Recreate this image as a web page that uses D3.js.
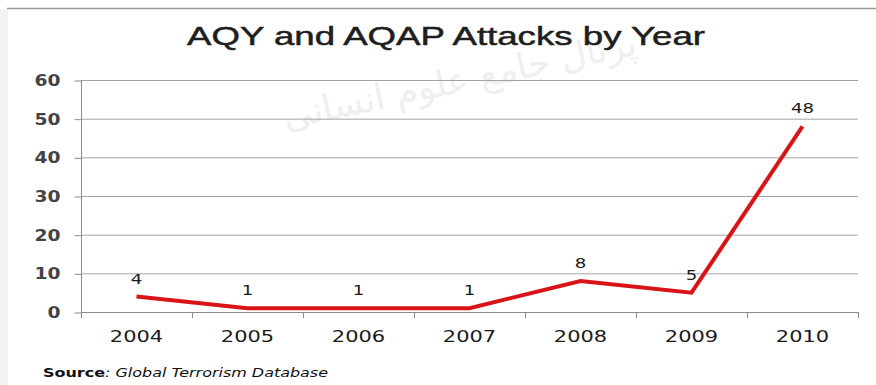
<!DOCTYPE html>
<html><head><meta charset="utf-8">
<script src="https://cdn.jsdelivr.net/npm/d3@7"></script>
<style>
html,body{margin:0;padding:0;background:#fff;}
svg{display:block;}
</style></head>
<body>
<svg id="chart" width="876" height="385"></svg>
<script>
const categories = ["2004","2005","2006","2007","2008","2009","2010"];
const attacks = [4,1,1,1,8,5,48];
const yTicks = [0,10,20,30,40,50,60];
const titleText = "AQY and AQAP Attacks by Year";
const sourceLabel = "Source";
const sourceText = ": Global Terrorism Database";
const watermark = "پرتال جامع علوم انسانی";

const svg = d3.select("#chart");
const W = 876, H = 385;
const m = {left:81, right:18, top:80, bottom:73};

// frame
svg.append("rect").attr("x",0).attr("y",0).attr("width",W).attr("height",H).attr("fill","#fff");
svg.append("rect").attr("x",0).attr("y",9).attr("width",8).attr("height",H-9).attr("fill","#f3f3f3");
svg.append("line").attr("x1",7).attr("x2",W).attr("y1",8.5).attr("y2",8.5).attr("stroke","#9a9a9a").attr("stroke-width",1.5);

// watermark
svg.append("text").attr("transform","translate(462,92) rotate(-12)")
  .attr("text-anchor","middle").attr("font-family","DejaVu Sans").attr("font-size",36)
  .attr("fill","#efefef").text(watermark);

const x = d3.scaleBand().domain(categories).range([m.left, W - m.right]);
const y = d3.scaleLinear().domain([0,60]).range([H - m.bottom, m.top]);

// gridlines
svg.append("g").selectAll("line").data(yTicks.filter(d=>d>0)).join("line")
  .attr("x1",m.left).attr("x2",W-m.right)
  .attr("y1",d=>y(d)+0.5).attr("y2",d=>y(d)+0.5)
  .attr("stroke","#a3a3a3").attr("stroke-width",1);

// y axis
const yAxis = svg.append("g").attr("transform",`translate(${m.left+0.5},0)`)
  .call(d3.axisLeft(y).tickValues(yTicks).tickSize(7).tickPadding(0));
yAxis.select(".domain").attr("stroke","#8a8a8a").attr("d",`M0,${y(60)}V${y(0)+5}`);
yAxis.selectAll(".tick line").attr("stroke","#8a8a8a").attr("transform","translate(0,0.5)");
yAxis.selectAll(".tick text")
  .attr("x",0).attr("dy",null).attr("y",5.5)
  .attr("transform","translate(-21,0) scale(1.25,1)")
  .attr("font-family","DejaVu Sans").attr("font-weight","bold").attr("font-size",15)
  .attr("fill","#444").attr("text-anchor","end");

// x axis
const xAxis = svg.append("g").attr("transform",`translate(0,${y(0)+0.5})`)
  .call(d3.axisBottom(x).tickSize(0).tickPadding(0));
xAxis.select(".domain").attr("stroke","#8a8a8a").attr("d",`M${m.left},0H${W-m.right}`);
xAxis.selectAll(".tick text")
  .attr("y",0).attr("dy",null)
  .attr("transform","translate(0,29) scale(1.27,1)")
  .attr("font-family","DejaVu Sans").attr("font-size",16.5).attr("fill","#1a1a1a");
const bounds = categories.map(c=>x(c)).concat([W-m.right]);
svg.append("g").selectAll("line").data(bounds).join("line")
  .attr("x1",d=>Math.round(d)+0.5).attr("x2",d=>Math.round(d)+0.5)
  .attr("y1",y(0)).attr("y2",y(0)+6).attr("stroke","#8a8a8a");

// line
const cx = d => x(d) + x.bandwidth()/2;
const line = d3.line().x((d,i)=>cx(categories[i])).y(d=>y(d));
svg.append("path").datum(attacks).attr("d",line)
  .attr("fill","none").attr("stroke","#d81418").attr("stroke-width",4)
  .attr("stroke-linejoin","miter");

// data labels
svg.append("g").selectAll("text").data(attacks).join("text")
  .attr("transform",(d,i)=>`translate(${cx(categories[i])},${y(d)-13}) scale(1.25,1)`)
  .attr("text-anchor","middle").attr("font-family","DejaVu Sans").attr("font-size",14.5)
  .attr("fill","#1a1a1a").text(d=>d);

// title
svg.append("text").attr("x",446).attr("y",45).attr("text-anchor","middle")
  .attr("font-family","Liberation Sans").attr("font-size",26.5).attr("fill","#1e1e1e")
  .attr("textLength",518).attr("lengthAdjust","spacingAndGlyphs")
  .attr("stroke","#1e1e1e").attr("stroke-width",0.5)
  .text(titleText);

// source
const src = svg.append("text").attr("x",43).attr("y",377)
  .attr("font-family","DejaVu Sans").attr("font-size",12).attr("fill","#111")
  .attr("textLength",285).attr("lengthAdjust","spacingAndGlyphs");
src.append("tspan").attr("font-weight","bold").text(sourceLabel);
src.append("tspan").attr("font-style","italic").text(sourceText);
</script>
</body></html>
